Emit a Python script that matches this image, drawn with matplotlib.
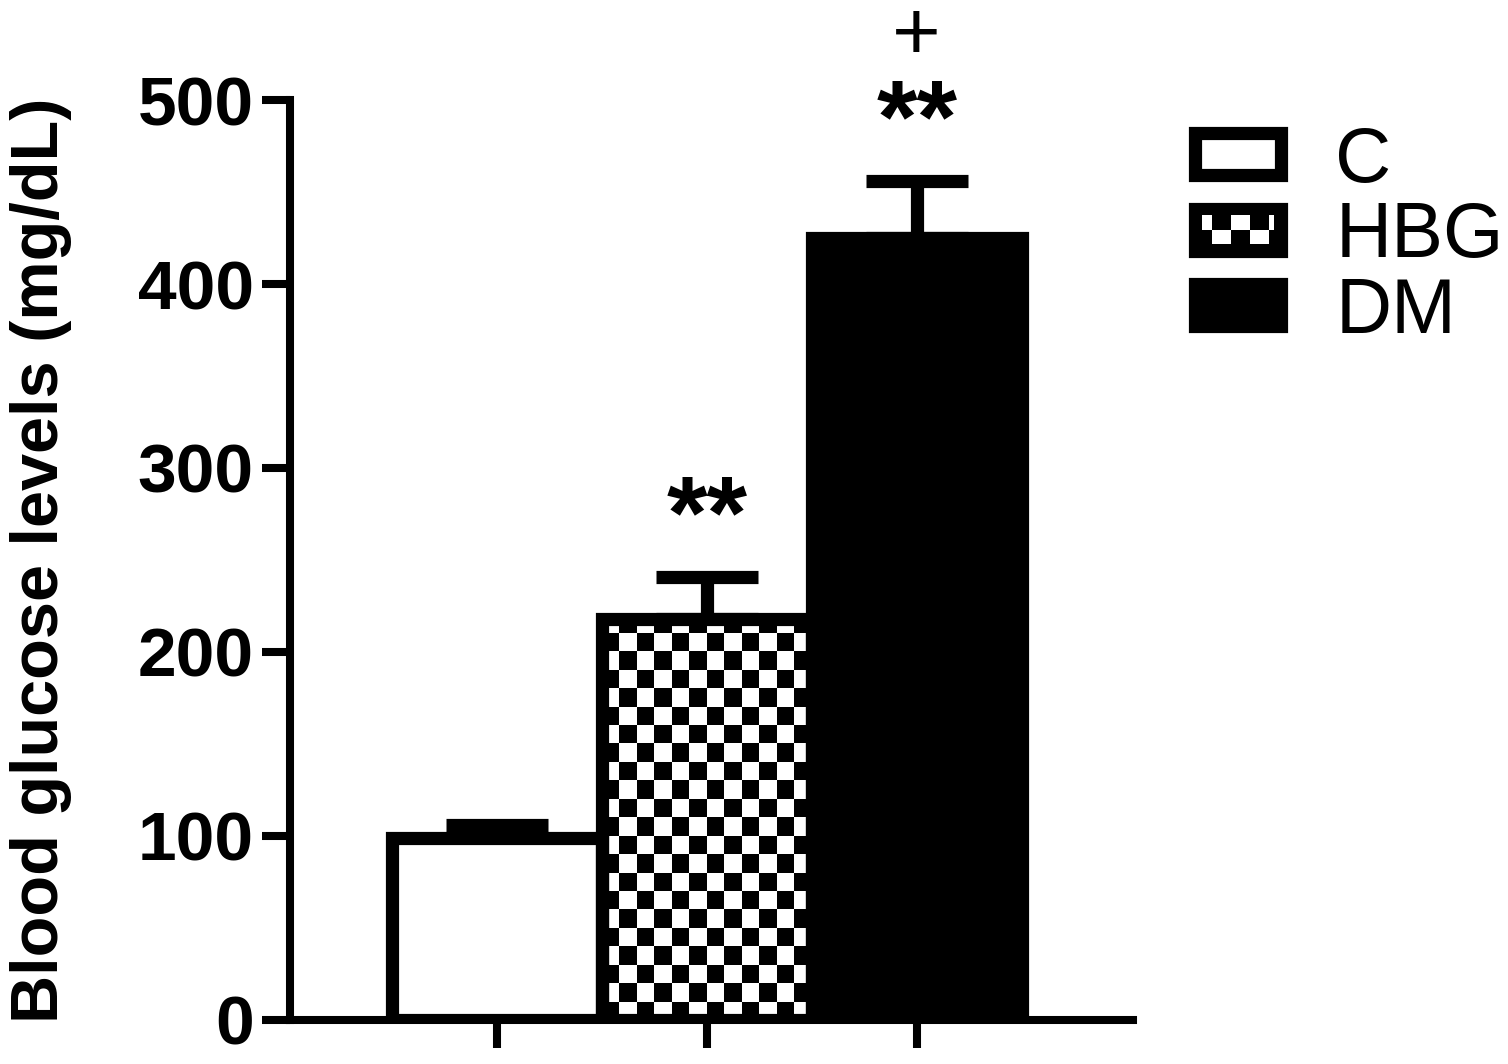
import numpy as np
import matplotlib
matplotlib.use("Agg")
import matplotlib.pyplot as plt
from matplotlib.patches import Rectangle, Patch
from matplotlib.legend_handler import HandlerPatch

groups = ["C", "HBG", "DM"]
means = [99, 218, 425]
sems = [7, 23, 31]
stars = ["", "**", "**"]
plus = ["", "", "+"]
yticks = [0, 100, 200, 300, 400, 500]

plt.rcParams["font.family"] = ["Liberation Sans", "DejaVu Sans"]

LW = 9.5


class CheckerHandler(HandlerPatch):
    # black box with one row of checks, as in the legend of the original
    def create_artists(self, legend, orig_handle, xdescent, ydescent,
                       width, height, fontsize, trans):
        x0, y0 = -xdescent, -ydescent
        lw = orig_handle.get_linewidth()
        box = Rectangle((x0, y0), width, height, facecolor="black",
                        edgecolor="black", linewidth=lw, transform=trans)
        arts = [box]
        ix, iy = x0 + lw / 2, y0 + lw / 2
        iw, ih = width - lw, height - lw
        edges = [0, 0.149, 0.407, 0.667, 0.925, 1.0]
        for i in range(len(edges) - 1):
            yy = iy + ih / 2 if i % 2 == 0 else iy
            arts.append(Rectangle((ix + edges[i] * iw, yy),
                                  (edges[i + 1] - edges[i]) * iw, ih / 2,
                                  facecolor="white", edgecolor="none",
                                  linewidth=0, transform=trans))
        return arts


fig = plt.figure(figsize=(15.08, 10.64), dpi=100)
ax = fig.add_axes([0.1923, 0.0414, 0.559, 0.8646])

x = np.arange(len(groups))
bars = ax.bar(x, means, width=1.0, color=["white", "none", "black"],
              edgecolor="black", linewidth=LW, zorder=3)
ax.errorbar(x, means, yerr=[np.zeros(len(x)), sems], fmt="none",
            ecolor="black", elinewidth=LW, capsize=37, capthick=LW, zorder=2)

# checkerboard fill of the HBG bar
b = bars[1]
sq_x, sq_y = 1 / 12, 10
nx = int(np.ceil(b.get_width() / sq_x))
ny = int(np.ceil(b.get_height() / sq_y))
checker = np.add.outer(np.arange(ny), np.arange(nx)) % 2
im = ax.imshow(checker, cmap="gray", origin="lower", aspect="auto",
               interpolation="nearest", zorder=2.5,
               extent=[b.get_x(), b.get_x() + nx * sq_x, 0, ny * sq_y])
im.set_clip_path(b)

for xi, m, s, t, p in zip(x, means, sems, stars, plus):
    if t:
        ax.text(xi, m + s + 30, t, ha="center", va="center", fontsize=75,
                fontweight="bold", clip_on=False)
    if p:
        ax.text(xi, m + s + 78, p, ha="center", va="center", fontsize=60,
                clip_on=False)

ax.set_xlim(-0.985, 3.03)
ax.set_ylim(0, 500)
ax.set_xticks(x)
ax.set_xticklabels([])
ax.set_yticks(yticks)
ax.set_yticklabels([str(v) for v in yticks], fontsize=50, fontweight="bold")
ax.tick_params(axis="both", length=20, width=5.8, direction="out", pad=6)
for side in ["top", "right"]:
    ax.spines[side].set_visible(False)
for side in ["left", "bottom"]:
    ax.spines[side].set_linewidth(5.8)

ax.set_ylabel("Blood glucose levels (mg/dL)", fontsize=48, fontweight="bold")
ax.yaxis.set_label_coords(-0.2586, 0.5)

handles = [Patch(facecolor=f, edgecolor="black", linewidth=LW)
           for f in ["white", "black", "black"]]
fig.legend(handles, groups, loc="upper left", bbox_to_anchor=(0.7924, 0.8825),
           frameon=False, fontsize=56, handlelength=1.105, handleheight=0.45,
           handletextpad=0.7, labelspacing=0.03, borderpad=0,
           borderaxespad=0, handler_map={handles[1]: CheckerHandler()})

fig.savefig("out.png", dpi=100)
